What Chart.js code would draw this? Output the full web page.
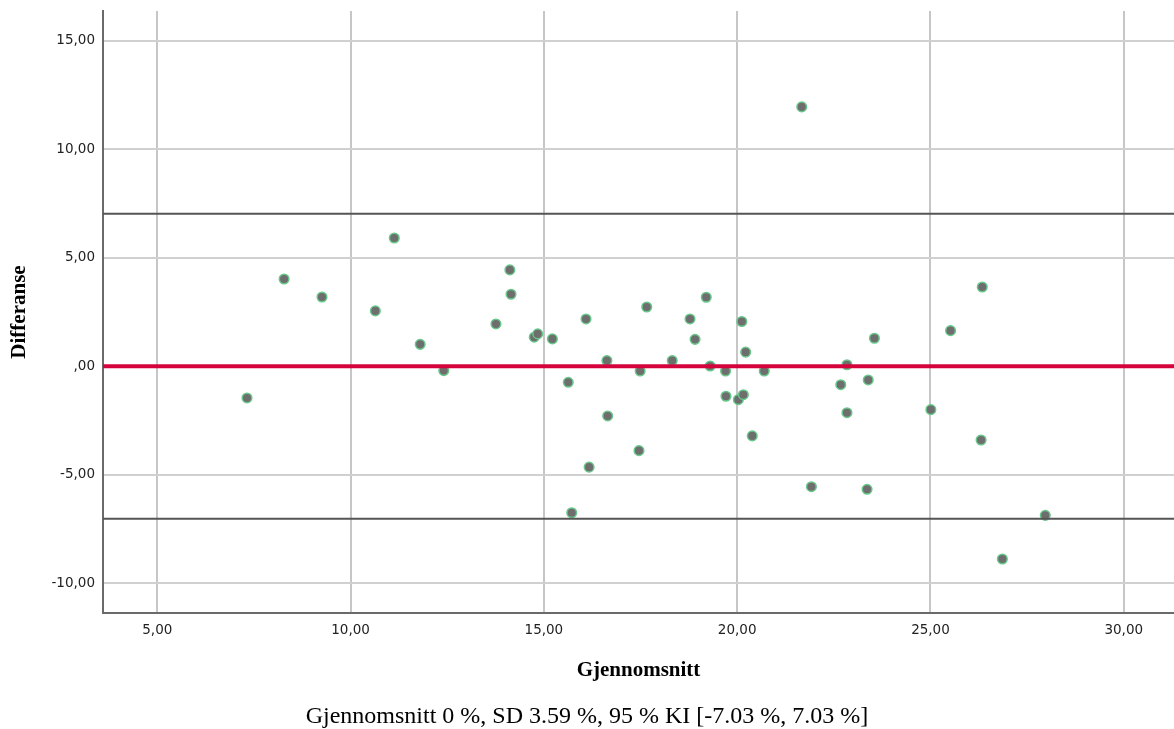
<!DOCTYPE html>
<html>
<head>
<meta charset="utf-8">
<script src="https://cdn.jsdelivr.net/npm/chart.js@4.4.1/dist/chart.umd.min.js"></script>
<style>
  html, body { margin: 0; padding: 0; background: #fff; overflow: hidden; }
  canvas { display: block; }
</style>
</head>
<body>
<canvas id="baChart" width="1174" height="729"></canvas>
<script>
// average of the two measurements (x) and their difference (y)
var avgValues = [7.32, 8.28, 9.26, 10.64, 11.13, 11.80, 12.41, 13.76, 14.12, 14.15,
  14.75, 14.84, 15.22, 15.63, 16.09, 16.63, 16.65, 16.17, 15.72, 17.46,
  17.49, 17.66, 18.32, 18.78, 18.91, 19.20, 19.30, 19.70, 19.71, 20.03,
  20.16, 20.12, 20.22, 20.39, 20.70, 21.67, 21.92, 22.68, 22.84, 22.84,
  23.39, 23.36, 23.55, 25.01, 25.52, 26.31, 26.34, 26.86, 27.97];
var diffValues = [-1.46, 4.02, 3.19, 2.55, 5.91, 1.01, -0.20, 1.95, 4.44, 3.32,
  1.34, 1.49, 1.26, -0.74, 2.18, 0.26, -2.29, -4.65, -6.75, -3.89,
  -0.22, 2.73, 0.26, 2.18, 1.24, 3.18, 0.01, -0.22, -1.38, -1.54,
  -1.31, 2.06, 0.65, -3.21, -0.22, 11.95, -5.55, -0.85, 0.07, -2.14,
  -0.63, -5.67, 1.29, -2.00, 1.64, -3.40, 3.65, -8.88, -6.87];

var meanDiff = 0;
var sdDiff = 3.59;
var loaLimits = [-7.03, 7.03];

var xTicks = [5, 10, 15, 20, 25, 30];
var xTickLabels = ['5,00', '10,00', '15,00', '20,00', '25,00', '30,00'];
var yTicks = [-10, -5, 0, 5, 10, 15];
var yTickLabels = ['-10,00', '-5,00', ',00', '5,00', '10,00', '15,00'];

var xMin = 3.595, xMax = 31.30;
var yMin = -11.37, yMax = 16.37;

var points = avgValues.map(function (v, i) { return { x: v, y: diffValues[i] }; });

function hLine(yv) {
    return [{ x: xMin, y: yv }, { x: xMax, y: yv }];
}

var tickFont = { family: 'DejaVu Sans', size: 13.5 };
var titleFont = { family: 'Liberation Serif', size: 21, weight: 'bold' };

var caption = 'Gjennomsnitt ' + meanDiff + ' %, SD ' + sdDiff + ' %, 95 % KI [' +
    loaLimits[0] + ' %, ' + loaLimits[1] + ' %]';

var ctx = document.getElementById('baChart').getContext('2d');
var baChart = new Chart(ctx, {
    type: 'scatter',
    data: {
        datasets: [{
            type: 'line',
            data: hLine(meanDiff),
            showLine: true,
            borderColor: '#d5033c',
            borderWidth: 4,
            pointRadius: 0
        }, {
            type: 'line',
            data: hLine(loaLimits[1]),
            showLine: true,
            borderColor: '#555555',
            borderWidth: 2,
            pointRadius: 0
        }, {
            type: 'line',
            data: hLine(loaLimits[0]),
            showLine: true,
            borderColor: '#555555',
            borderWidth: 2,
            pointRadius: 0
        }, {
            label: 'Differanse',
            data: points,
            backgroundColor: '#6e6e6e',
            borderColor: 'rgb(104,200,138)',
            borderWidth: 1.5,
            pointRadius: 4.8
        }]
    },
    options: {
        responsive: false,
        animation: false,
        layout: { autoPadding: false, padding: { top: 11, left: 0, right: 0, bottom: 0 } },
        plugins: {
            legend: { display: false },
            tooltip: { enabled: false },
            title: {
                display: true,
                position: 'bottom',
                text: caption,
                color: '#000',
                font: { family: 'Liberation Serif', size: 24, weight: 'normal', lineHeight: 1 },
                padding: { top: 21.6, bottom: 0 }
            }
        },
        scales: {
            x: {
                type: 'linear',
                min: xMin,
                max: xMax,
                afterBuildTicks: function (scale) {
                    scale.ticks = xTicks.map(function (v) { return { value: v }; });
                },
                afterFit: function (scale) {
                    scale.height = 70.4;
                    scale.paddingLeft = 0;
                    scale.paddingRight = 0;
                },
                ticks: {
                    autoSkip: false,
                    maxRotation: 0,
                    padding: 9,
                    color: '#222',
                    font: tickFont,
                    callback: function (v, i) { return xTickLabels[i]; }
                },
                grid: { color: '#c6c6c6', lineWidth: 2, drawTicks: false },
                border: { color: '#6a6a6a', width: 2 },
                title: {
                    display: true,
                    text: 'Gjennomsnitt',
                    color: '#000',
                    font: titleFont,
                    padding: { top: 20, bottom: 0 }
                }
            },
            y: {
                type: 'linear',
                min: yMin,
                max: yMax,
                afterBuildTicks: function (scale) {
                    scale.ticks = yTicks.map(function (v) { return { value: v }; });
                },
                afterFit: function (scale) {
                    scale.width = 103;
                    scale.paddingTop = 0;
                    scale.paddingBottom = 0;
                },
                ticks: {
                    autoSkip: false,
                    padding: 8,
                    color: '#222',
                    font: tickFont,
                    callback: function (v, i) { return yTickLabels[i]; }
                },
                grid: { color: '#d0d0d0', lineWidth: 2, drawTicks: false },
                border: { color: '#6a6a6a', width: 2 },
                title: {
                    display: true,
                    text: 'Differanse',
                    color: '#000',
                    font: titleFont,
                    padding: { top: 7.4, bottom: 0 }
                }
            }
        }
    }
});
</script>
</body>
</html>
